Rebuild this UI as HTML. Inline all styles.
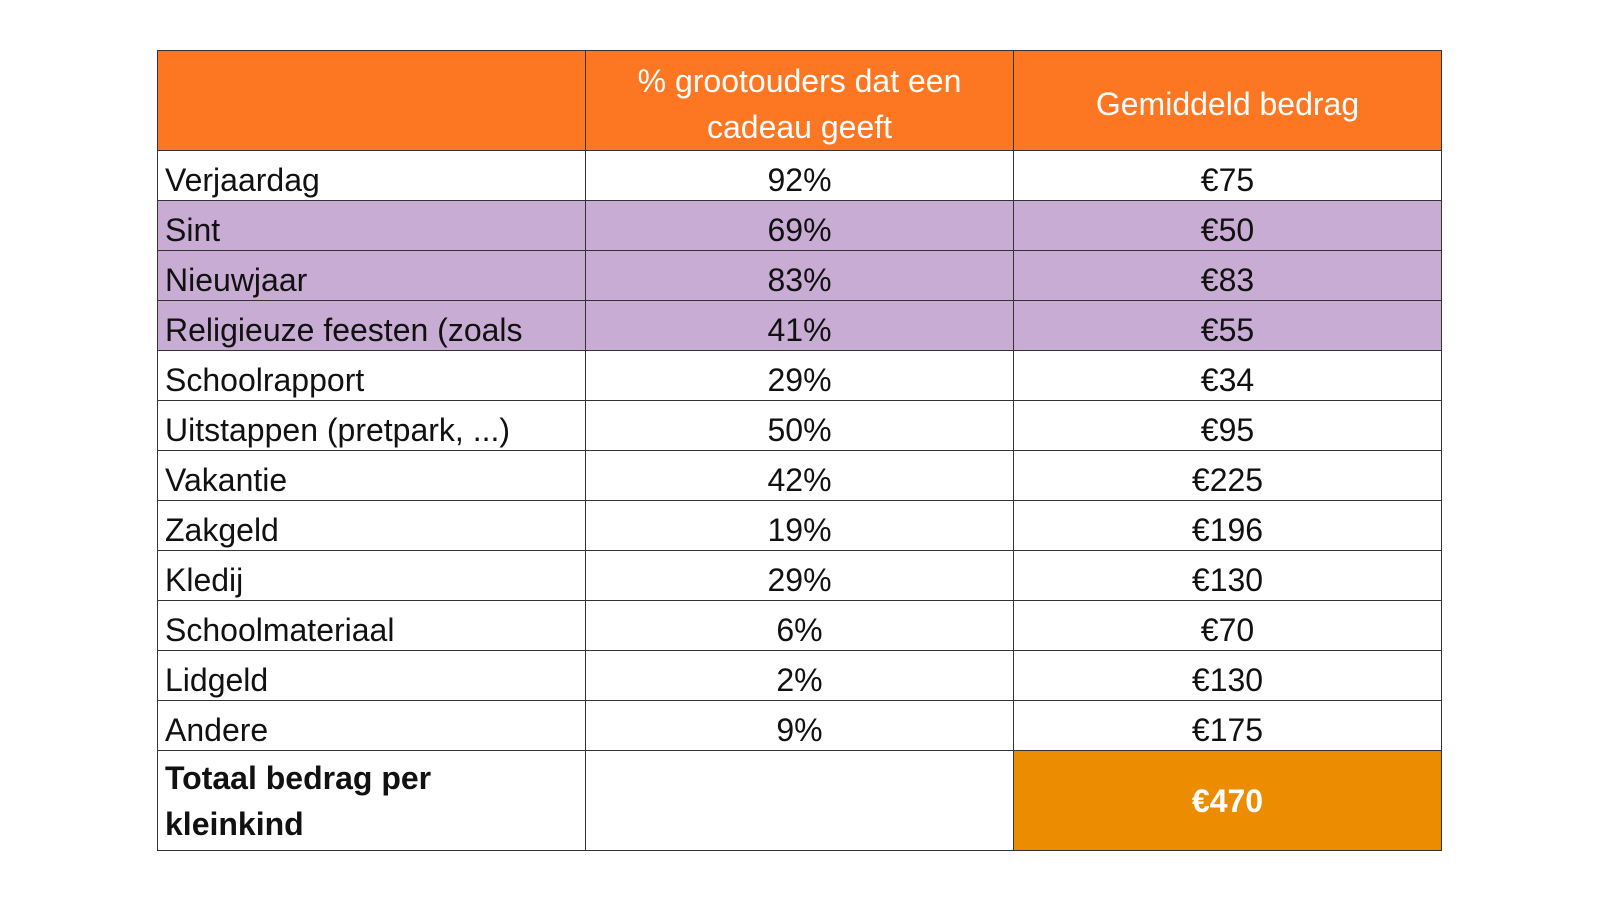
<!DOCTYPE html>
<html><head><meta charset="utf-8"><style>
body{margin:0;width:1600px;height:900px;background:#fff;position:relative;font-family:"Liberation Sans",sans-serif;}
table{position:absolute;left:157px;top:50px;border-collapse:collapse;table-layout:fixed;}
td{border:1.5px solid #333;padding:0;height:49px;font-size:32px;color:#111;vertical-align:bottom;line-height:40px;padding-bottom:0;}
td.c{text-align:center}
td.l{padding-left:7px}
tr.h td{height:99px;background:#fd7622;color:#fff;text-align:center;vertical-align:middle;line-height:46px;font-size:32px;padding:6px 0 0 0;height:93px}
tr.p td{background:#c9acd4}
tr.t td{height:99px;font-weight:bold;vertical-align:middle;line-height:46px;padding:0 0 0 7px}
tr.t td.tot{padding:0}
td.tot{background:#ec8c00;color:#fff;text-align:center}
</style></head><body>
<table>
<col style="width:428px"><col style="width:428px"><col style="width:428px">
<tr class="h"><td></td><td>% grootouders dat een<br>cadeau geeft</td><td>Gemiddeld bedrag</td></tr>
<tr><td class="l">Verjaardag</td><td class="c">92%</td><td class="c">€75</td></tr>
<tr class="p"><td class="l">Sint</td><td class="c">69%</td><td class="c">€50</td></tr>
<tr class="p"><td class="l">Nieuwjaar</td><td class="c">83%</td><td class="c">€83</td></tr>
<tr class="p"><td class="l">Religieuze feesten (zoals</td><td class="c">41%</td><td class="c">€55</td></tr>
<tr><td class="l">Schoolrapport</td><td class="c">29%</td><td class="c">€34</td></tr>
<tr><td class="l">Uitstappen (pretpark, ...)</td><td class="c">50%</td><td class="c">€95</td></tr>
<tr><td class="l">Vakantie</td><td class="c">42%</td><td class="c">€225</td></tr>
<tr><td class="l">Zakgeld</td><td class="c">19%</td><td class="c">€196</td></tr>
<tr><td class="l">Kledij</td><td class="c">29%</td><td class="c">€130</td></tr>
<tr><td class="l">Schoolmateriaal</td><td class="c">6%</td><td class="c">€70</td></tr>
<tr><td class="l">Lidgeld</td><td class="c">2%</td><td class="c">€130</td></tr>
<tr><td class="l">Andere</td><td class="c">9%</td><td class="c">€175</td></tr>
<tr class="t"><td>Totaal bedrag per<br>kleinkind</td><td></td><td class="tot">€470</td></tr>
</table>
</body></html>
